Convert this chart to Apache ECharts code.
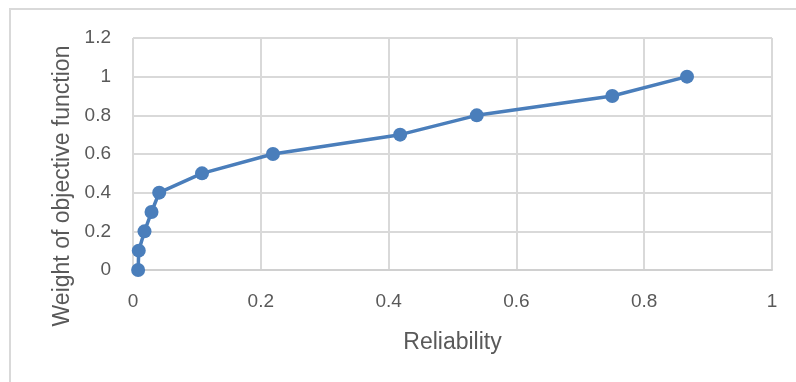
<!DOCTYPE html>
<html>
<head>
<meta charset="utf-8">
<script src="https://cdn.jsdelivr.net/npm/echarts@6/dist/echarts.min.js"></script>
<style>
  html, body { margin: 0; padding: 0; background: #fff; }
  #frame { position: absolute; left: 9px; top: 8px; width: 800px; height: 400px;
           border: 2px solid #d9d9d9; box-sizing: border-box; }
  #chart { position: absolute; left: 0; top: 0; width: 796px; height: 382px; }
</style>
</head>
<body>
<div id="frame"></div>
<div id="chart"></div>
<script>
// Reliability vs. weight of the objective function
const reliability = [0.008, 0.009, 0.018, 0.029, 0.041, 0.108, 0.219, 0.418, 0.538, 0.750, 0.867];
const weight = [0, 0.1, 0.2, 0.3, 0.4, 0.5, 0.6, 0.7, 0.8, 0.9, 1.0];
const xTicks = [0, 0.2, 0.4, 0.6, 0.8, 1];
const yTicks = [0, 0.2, 0.4, 0.6, 0.8, 1, 1.2];

const points = reliability.map((r, i) => [r, weight[i]]);
const font = '"Liberation Sans", "DejaVu Sans", sans-serif';
const textColor = '#595959';

const chart = echarts.init(document.getElementById('chart'), null, { renderer: 'canvas' });
chart.setOption({
  animation: false,
  backgroundColor: 'transparent',
  grid: { left: 133, right: 24, top: 38, bottom: 112, containLabel: false },
  xAxis: {
    type: 'value',
    min: xTicks[0], max: xTicks[xTicks.length - 1], interval: 0.2,
    name: 'Reliability',
    nameLocation: 'middle', nameGap: 61,
    nameTextStyle: { fontFamily: font, fontSize: 23, color: textColor },
    axisLine: { show: true, lineStyle: { color: '#d0d0d0', width: 2 } },
    axisTick: { show: false },
    axisLabel: { fontFamily: font, fontSize: 19, color: textColor, margin: 22,
                 formatter: v => String(+v.toFixed(1)) },
    splitLine: { show: true, lineStyle: { color: '#d9d9d9', width: 2 } }
  },
  yAxis: {
    type: 'value',
    min: yTicks[0], max: yTicks[yTicks.length - 1], interval: 0.2,
    name: 'Weight of objective function',
    nameLocation: 'middle', nameGap: 59,
    // title sits a little below the plot's vertical centre
    nameTextStyle: { fontFamily: font, fontSize: 23, color: textColor, padding: [0, 64, 0, 0] },
    axisLine: { show: false },
    axisTick: { show: false },
    axisLabel: { fontFamily: font, fontSize: 19, color: textColor, margin: 22,
                 formatter: v => String(+v.toFixed(1)) },
    splitLine: { show: true, lineStyle: { color: '#d9d9d9', width: 2 } }
  },
  series: [{
    type: 'line',
    data: points,
    symbol: 'circle',
    symbolSize: 14,
    lineStyle: { color: '#4A7EBB', width: 3.5 },
    itemStyle: { color: '#4A7EBB' },
    z: 5
  }]
});
</script>
</body>
</html>
